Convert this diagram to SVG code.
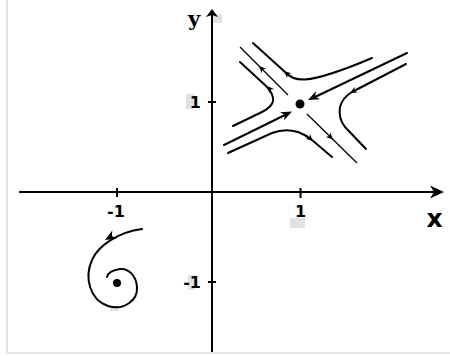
<svg xmlns="http://www.w3.org/2000/svg" width="450" height="356" viewBox="0 0 450 356">
<style>
.ax{stroke:#000;stroke-width:2;fill:none}
.tr{stroke:#000;stroke-width:2;fill:none;stroke-linecap:round}
.th{stroke:#000;stroke-width:1.3;fill:none}
.lbl{font-family:"DejaVu Sans",Verdana,sans-serif;font-size:16px;font-weight:bold;fill:#000}
.art{fill:#e2e2e2}
</style>
<defs>
<path id="ah" d="M0,0 L-7,-3.2 L-5,0 L-7,3.2 Z" fill="#000"/>
<path id="ahb" d="M0,0 L-11,-4.5 L-8,0 L-11,4.5 Z" fill="#000"/>
</defs>
<rect width="450" height="356" fill="#fff"/>
<g id="frame">
<line x1="7" y1="0" x2="7" y2="353" stroke="#dcdcdc" stroke-width="1.5"/>
<line x1="7" y1="353" x2="450" y2="353" stroke="#dcdcdc" stroke-width="1.5"/>
</g>
<g id="artifacts">
<rect class="art" x="186" y="94" width="8" height="15"/>
<rect class="art" x="290" y="218" width="15" height="10"/>
<rect class="art" x="188" y="275" width="7" height="15"/>
<rect class="art" x="110" y="306" width="9" height="5"/>
<rect class="art" x="213" y="14" width="9" height="9"/>
</g>
<g id="axes">
<line class="ax" x1="19" y1="192" x2="438" y2="192"/>
<path d="M444,192 L430,185.5 L434,192 L430,198.5 Z" fill="#000"/>
<line class="ax" x1="212" y1="352" x2="212" y2="14"/>
<path d="M212,9 L206,17 L212,15 L218,17 Z" fill="#000"/>
<line class="ax" x1="117" y1="188" x2="117" y2="197"/>
<line class="ax" x1="300.5" y1="188" x2="300.5" y2="198"/>
<line class="ax" x1="208" y1="102" x2="216" y2="102"/>
<line class="ax" x1="208" y1="282" x2="216" y2="282"/>
</g>
<g id="labels">
<text class="lbl" x="116" y="217" text-anchor="middle">-1</text>
<text class="lbl" x="300.5" y="217" text-anchor="middle">1</text>
<text class="lbl" x="201" y="108" text-anchor="end">1</text>
<text class="lbl" x="201" y="288" text-anchor="end">-1</text>
<text x="194" y="26" text-anchor="middle" font-family="'DejaVu Serif',serif" font-size="21" font-weight="bold">y</text>
<text x="434.5" y="227" text-anchor="middle" font-family="'DejaVu Sans',Verdana,sans-serif" font-size="25" font-weight="bold">x</text>
</g>
<g id="saddle">
<path class="th" d="M240,47 L288,95"/>
<path class="th" d="M307,114 L357,163"/>
<use href="#ah" transform="translate(259,66) rotate(225)"/>
<use href="#ah" transform="translate(333,139.5) rotate(44)"/>
<path class="tr" d="M253,43 L285,72 Q292,80 305,79.5 Q325,78 372,58"/>
<use href="#ah" transform="translate(284,71) rotate(222)"/>
<path class="tr" d="M240,62 L266,86 Q274,94 273,101 Q272,107 262,112 L233,126"/>
<use href="#ah" transform="translate(267,86) rotate(228)"/>
<path class="tr" d="M228,153 L272,133 Q285,128 298,132 Q306,135 312,140 L332,157"/>
<use href="#ah" transform="translate(313,141) rotate(42)"/>
<path class="tr" d="M406,64 L352,92 Q343,97 340,107 Q338,118 345,127 L366,149"/>
<use href="#ah" transform="translate(350,93) rotate(152)"/>
<path class="tr" d="M224,145 L285,115"/>
<use href="#ahb" transform="translate(292,111.5) rotate(-26)"/>
<path class="tr" d="M407,53 L315,97"/>
<use href="#ahb" transform="translate(308,100) rotate(154)"/>
<circle cx="300" cy="104" r="4.5" fill="#000"/>
</g>
<g id="spiral">
<path class="tr" stroke-width="2.5" d="M142,229 C118,232 98,246 92,260 C84,278 90,300 108,306 C124,311 138,300 137,287 C136,275 128,268 120,269 C113,270 108,273 107,277"/>
<use href="#ahb" transform="translate(105,240) rotate(150)"/>
<circle cx="117" cy="283" r="4" fill="#000"/>
</g>
</svg>
